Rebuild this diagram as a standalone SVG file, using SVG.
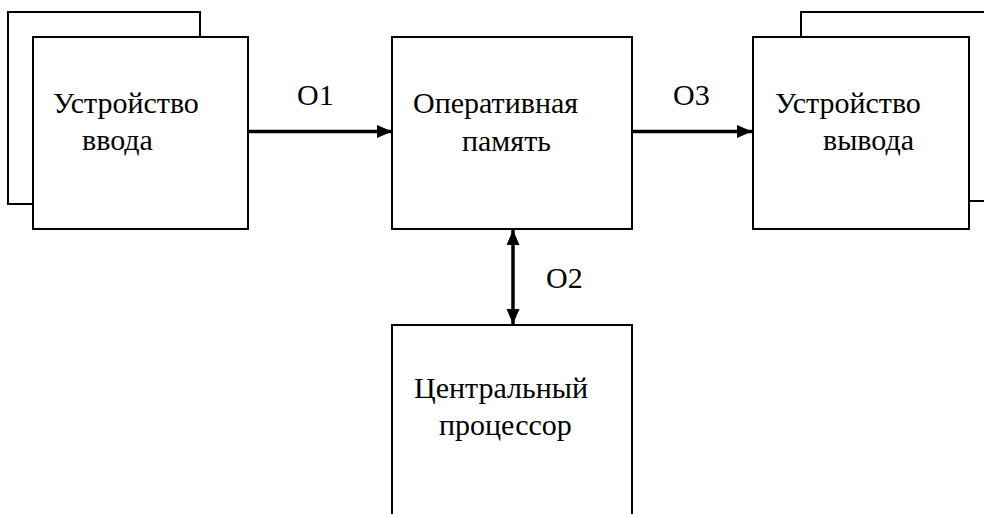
<svg xmlns="http://www.w3.org/2000/svg" width="984" height="514" viewBox="0 0 984 514">
  <style>
    .box { fill: #ffffff; stroke: #000000; stroke-width: 2; }
    .lbl { font-family: "Liberation Serif", "DejaVu Serif", serif; font-size: 30px; fill: #000000; }
    .conn { stroke: #000000; stroke-width: 3.5; fill: none; }
  </style>
  <defs>
    <marker id="arrow" markerUnits="userSpaceOnUse" markerWidth="16" markerHeight="14" refX="15" refY="6.5" orient="auto-start-reverse">
      <path d="M0,0 L15,6.5 L0,13 z" fill="#000000"/>
    </marker>
  </defs>
  <rect x="0" y="0" width="984" height="514" fill="#ffffff"/>

  <g id="input-device">
    <rect class="box" x="8" y="12" width="192" height="192"/>
    <rect class="box" x="33" y="37" width="215" height="192"/>
    <text class="lbl" x="53" y="113">Устройство</text>
    <text class="lbl" x="82" y="150">ввода</text>
  </g>

  <g id="ram">
    <rect class="box" x="392" y="37" width="240" height="192"/>
    <text class="lbl" x="413" y="113">Оперативная</text>
    <text class="lbl" x="462" y="151">память</text>
  </g>

  <g id="output-device">
    <rect class="box" x="801" y="12" width="200" height="189"/>
    <rect class="box" x="753" y="37" width="216" height="192"/>
    <text class="lbl" x="775" y="113">Устройство</text>
    <text class="lbl" x="823" y="150">вывода</text>
  </g>

  <g id="cpu">
    <rect class="box" x="392" y="325" width="240" height="250"/>
    <text class="lbl" x="414" y="398">Центральный</text>
    <text class="lbl" x="439" y="435">процессор</text>
  </g>

  <g id="connectors">
    <line class="conn" x1="249" y1="131.5" x2="392" y2="131.5" marker-end="url(#arrow)"/>
    <text class="lbl" x="297" y="105">O1</text>
    <line class="conn" x1="633" y1="131.5" x2="752" y2="131.5" marker-end="url(#arrow)"/>
    <text class="lbl" x="673" y="105">O3</text>
    <line class="conn" x1="513" y1="230" x2="513" y2="324" marker-start="url(#arrow)" marker-end="url(#arrow)"/>
    <text class="lbl" x="546" y="288">O2</text>
  </g>
</svg>
